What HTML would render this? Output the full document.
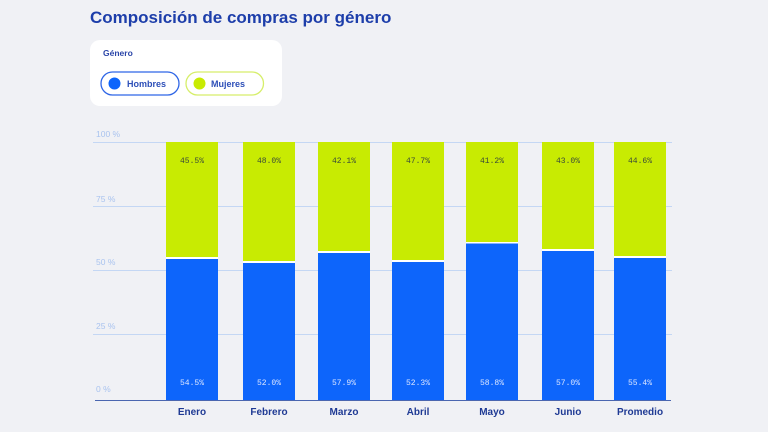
<!DOCTYPE html>
<html><head><meta charset="utf-8">
<style>
html,body{margin:0;padding:0;background:#f0f1f5;}
body{width:768px;height:432px;overflow:hidden;position:relative;font-family:"Liberation Sans",sans-serif;}
svg{position:absolute;left:0;top:0;}
</style></head>
<body>
<svg width="768" height="432" viewBox="0 0 768 432" xmlns="http://www.w3.org/2000/svg">
<rect width="768" height="432" fill="#f0f1f5"/>
<text x="90" y="23" font-family="Liberation Sans, sans-serif" font-weight="bold" font-size="17" fill="#1d3eaa">Composición de compras por género</text>
<rect x="90" y="40" width="192" height="66" rx="10" fill="#ffffff"/>
<text x="103" y="56" font-family="Liberation Sans, sans-serif" font-weight="bold" font-size="8.5" fill="#2a45a8">Género</text>
<rect x="101" y="72" width="78" height="23" rx="11.5" fill="#fff" stroke="#2f66e6" stroke-width="1.3"/>
<circle cx="114.5" cy="83.5" r="6" fill="#0d65fb"/>
<text x="127" y="87" font-family="Liberation Sans, sans-serif" font-weight="bold" font-size="9" fill="#2d4fb8">Hombres</text>
<rect x="186" y="72" width="77.5" height="23" rx="11.5" fill="#fff" stroke="#d6ee6a" stroke-width="1.3"/>
<circle cx="199.5" cy="83.5" r="6" fill="#c8eb02"/>
<text x="211" y="87" font-family="Liberation Sans, sans-serif" font-weight="bold" font-size="9" fill="#2d4fb8">Mujeres</text>

<g stroke="#c4d7f4" stroke-width="1">
<line x1="93" y1="142.5" x2="672" y2="142.5"/>
<line x1="93" y1="206.5" x2="672" y2="206.5"/>
<line x1="93" y1="270.5" x2="672" y2="270.5"/>
<line x1="93" y1="334.5" x2="672" y2="334.5"/>
</g>
<g font-family="Liberation Sans, sans-serif" font-size="8.5" fill="#a9c3ef">
<text x="96" y="137">100 %</text>
<text x="96" y="202">75 %</text>
<text x="96" y="265">50 %</text>
<text x="96" y="329">25 %</text>
<text x="96" y="392">0 %</text>
</g>

<g>
<!-- Enero -->
<rect x="166" y="142" width="52" height="258" fill="#ffffff"/>
<rect x="166" y="142" width="52" height="115" fill="#c8eb02"/>
<rect x="166" y="259" width="52" height="141" fill="#0d65fb"/>
<!-- Febrero -->
<rect x="243" y="142" width="52" height="258" fill="#ffffff"/>
<rect x="243" y="142" width="52" height="119" fill="#c8eb02"/>
<rect x="243" y="263" width="52" height="137" fill="#0d65fb"/>
<!-- Marzo -->
<rect x="318" y="142" width="52" height="258" fill="#ffffff"/>
<rect x="318" y="142" width="52" height="109" fill="#c8eb02"/>
<rect x="318" y="253" width="52" height="147" fill="#0d65fb"/>
<!-- Abril -->
<rect x="392" y="142" width="52" height="258" fill="#ffffff"/>
<rect x="392" y="142" width="52" height="118" fill="#c8eb02"/>
<rect x="392" y="262" width="52" height="138" fill="#0d65fb"/>
<!-- Mayo -->
<rect x="466" y="142" width="52" height="258" fill="#ffffff"/>
<rect x="466" y="142" width="52" height="100" fill="#c8eb02"/>
<rect x="466" y="243.5" width="52" height="156.5" fill="#0d65fb"/>
<!-- Junio -->
<rect x="542" y="142" width="52" height="258" fill="#ffffff"/>
<rect x="542" y="142" width="52" height="107" fill="#c8eb02"/>
<rect x="542" y="251" width="52" height="149" fill="#0d65fb"/>
<!-- Promedio -->
<rect x="614" y="142" width="52" height="258" fill="#ffffff"/>
<rect x="614" y="142" width="52" height="114" fill="#c8eb02"/>
<rect x="614" y="258" width="52" height="142" fill="#0d65fb"/>
</g>

<g font-family="Liberation Mono, DejaVu Sans Mono, monospace" font-size="8" text-anchor="middle" fill="#3a4a3a">
<text x="192" y="163">45.5%</text>
<text x="269" y="163">48.0%</text>
<text x="344" y="163">42.1%</text>
<text x="418" y="163">47.7%</text>
<text x="492" y="163">41.2%</text>
<text x="568" y="163">43.0%</text>
<text x="640" y="163">44.6%</text>
</g>
<g font-family="Liberation Mono, DejaVu Sans Mono, monospace" font-size="8" text-anchor="middle" fill="#dce6ff">
<text x="192" y="385">54.5%</text>
<text x="269" y="385">52.0%</text>
<text x="344" y="385">57.9%</text>
<text x="418" y="385">52.3%</text>
<text x="492" y="385">58.8%</text>
<text x="568" y="385">57.0%</text>
<text x="640" y="385">55.4%</text>
</g>

<line x1="95" y1="400.5" x2="671" y2="400.5" stroke="#4a66b0" stroke-width="1"/>

<g font-family="Liberation Sans, sans-serif" font-weight="bold" font-size="10" text-anchor="middle" fill="#1f3a94">
<text x="192" y="415">Enero</text>
<text x="269" y="415">Febrero</text>
<text x="344" y="415">Marzo</text>
<text x="418" y="415">Abril</text>
<text x="492" y="415">Mayo</text>
<text x="568" y="415">Junio</text>
<text x="640" y="415">Promedio</text>
</g>
</svg>
</body></html>
